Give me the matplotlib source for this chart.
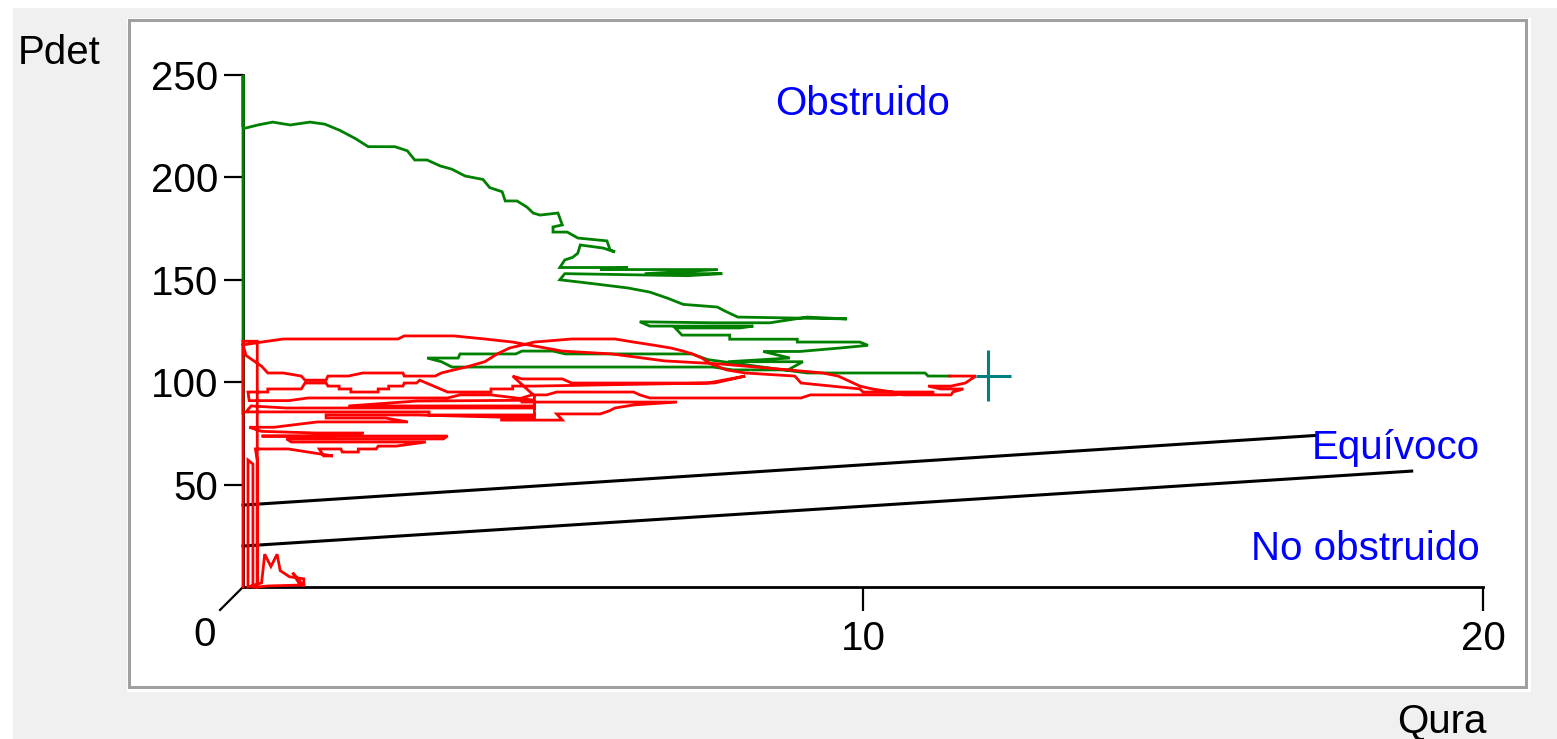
import matplotlib
matplotlib.use("Agg")
import matplotlib.pyplot as plt
from matplotlib.patches import Rectangle

plt.rcParams['font.family'] = ['Liberation Sans', 'DejaVu Sans']

# ---- data ----
# nomogram boundary lines
obst_q = [0.0, 17.3]
obst_p = [40.0, 74.0]
equiv_q = [0.0, 18.85]
equiv_p = [20.0, 56.6]

# voiding trace up to Qmax (green), (Qura, Pdet) pairs
green_trace = [
    (0.0, 85.0), (0.0, 250.0), (0.0, 225.0), (0.03, 224.0), (0.24, 225.6), (0.48, 227.0),
    (0.76, 225.6), (1.08, 227.0), (1.32, 226.0), (1.56, 223.0), (1.81, 219.0), (2.02, 215.0),
    (2.45, 215.0), (2.65, 213.0), (2.77, 208.5), (2.97, 208.5), (3.18, 205.6), (3.37, 204.0),
    (3.58, 200.7), (3.87, 199.0), (3.98, 195.0), (4.18, 193.0), (4.23, 188.5), (4.42, 188.5),
    (4.58, 185.5), (4.68, 182.6), (4.79, 181.6), (5.08, 182.6), (5.15, 176.8), (5.0, 175.8),
    (5.0, 173.3), (5.23, 173.3), (5.4, 170.4), (5.87, 169.0), (5.92, 164.6), (6.0, 163.6),
    (5.81, 165.5), (5.44, 167.0), (5.4, 163.0), (5.32, 161.0), (5.19, 159.7), (5.11, 156.0),
    (6.21, 156.0), (5.76, 155.0), (7.66, 155.0), (6.48, 153.0), (7.73, 153.0), (7.16, 152.0),
    (5.19, 153.0), (5.11, 150.0), (5.4, 149.0), (5.81, 147.5), (6.21, 146.0), (6.56, 144.0),
    (6.85, 141.0), (7.1, 138.0), (7.65, 136.7), (7.77, 134.8), (7.98, 131.8), (9.74, 130.9),
    (9.1, 131.8), (8.5, 129.0), (7.58, 129.0), (6.4, 129.5), (6.56, 127.4), (8.23, 127.4),
    (8.02, 126.5), (6.97, 126.5), (7.08, 123.0), (7.85, 123.0), (7.85, 121.0), (8.94, 121.0),
    (8.94, 119.6), (9.95, 119.6), (10.08, 118.0), (9.63, 116.7), (8.98, 115.0), (8.39, 115.0),
    (8.82, 111.8), (7.82, 110.0), (9.03, 110.0), (8.79, 106.0), (7.9, 106.0), (7.58, 107.4),
    (3.37, 107.4), (3.2, 110.0), (2.97, 111.8), (3.47, 111.8), (3.5, 113.8), (4.4, 113.8),
    (4.5, 115.2), (5.0, 115.2), (5.2, 113.8), (7.24, 113.8), (7.5, 111.0), (8.6, 106.5),
    (9.1, 104.5), (9.34, 104.5), (9.6, 104.5), (11.0, 104.5), (11.05, 103.0), (11.4, 103.0),
]

# voiding trace after Qmax (red), (Qura, Pdet) pairs
red_trace = [
    (11.4, 103.0), (11.82, 103.0), (11.65, 99.6), (11.42, 98.1), (11.05, 98.1), (11.25, 96.7),
    (11.62, 96.7), (11.45, 95.2), (11.42, 93.8), (10.65, 93.8), (10.48, 95.2), (10.15, 96.7),
    (9.95, 98.1), (9.6, 103.0), (9.35, 104.5), (8.8, 106.0), (7.7, 108.9), (6.8, 110.4),
    (5.95, 113.8), (5.15, 115.2), (4.6, 118.2), (4.35, 119.6), (3.9, 121.1), (3.4, 122.6),
    (2.6, 122.6), (2.5, 121.1), (0.65, 121.1), (0.3, 119.6), (0.0, 118.2),
    (0.05, 113.0), (0.3, 107.8), (0.4, 104.5), (0.65, 104.5), (0.94, 103.0), (1.0, 101.0),
    (1.34, 101.0), (1.37, 103.0), (1.7, 103.0), (1.93, 104.5), (2.58, 104.5), (2.6, 103.0),
    (3.1, 103.0), (3.2, 104.5), (3.4, 106.0), (3.6, 107.4), (3.9, 110.0), (4.1, 113.8),
    (4.3, 116.7), (4.7, 119.6), (5.3, 121.1), (6.0, 121.1), (6.3, 119.6), (6.6, 118.2),
    (6.9, 116.7), (7.1, 115.2), (7.25, 113.8), (7.4, 111.8), (7.55, 108.9), (7.8, 106.0),
    (8.1, 104.5), (8.9, 103.0), (9.0, 99.6), (9.5, 98.1), (9.95, 96.7), (10.0, 95.2),
    (11.15, 95.2), (10.5, 93.8), (9.15, 93.8), (9.0, 92.3), (6.56, 92.3), (6.4, 93.8),
    (6.3, 95.2), (5.06, 95.2), (4.9, 93.8), (4.66, 93.8), (4.5, 92.3), (4.5, 90.3),
    (7.0, 90.3), (6.3, 88.9), (6.0, 87.4), (5.9, 85.9), (5.76, 84.5), (5.06, 84.5),
    (5.15, 81.5), (4.15, 81.5), (4.7, 84.0), (4.7, 87.0),
    (4.7, 93.3), (4.35, 103.0), (4.5, 101.6), (5.15, 101.6), (5.3, 99.6), (7.6, 99.6),
    (7.9, 101.6), (8.1, 103.0), (7.5, 99.6), (4.7, 98.1),
    (4.35, 98.1), (4.35, 96.7), (4.0, 96.7), (4.0, 95.2), (3.3, 95.2), (2.85, 101.0),
    (2.8, 99.6), (2.6, 99.6), (2.58, 98.1), (2.35, 98.1), (2.35, 96.7), (2.18, 96.7),
    (2.18, 95.2), (1.74, 95.2), (1.74, 96.7), (1.55, 96.7), (1.55, 98.1), (1.37, 98.1),
    (1.34, 99.6), (1.0, 99.6), (0.94, 96.7), (0.4, 96.7), (0.4, 95.2), (0.08, 95.2),
    (0.1, 91.0), (0.74, 91.0), (1.05, 92.3), (3.3, 92.3), (3.5, 93.8), (4.0, 93.8),
    (4.7, 91.2), (2.8, 90.8), (1.7, 88.4), (4.7, 88.4), (4.7, 87.4), (0.7, 87.4),
    (0.13, 88.4), (0.05, 85.5), (3.0, 85.5), (3.0, 84.0), (4.7, 84.0), (4.7, 82.5),
    (2.8, 84.0), (1.34, 84.0), (1.34, 82.5), (2.3, 82.5), (2.66, 80.6), (1.2, 80.6),
    (0.5, 78.0), (0.1, 78.0), (0.3, 76.0), (1.18, 75.2), (1.95, 75.2), (1.45, 73.7),
    (0.3, 73.7), (3.3, 73.7), (3.23, 72.3), (0.7, 72.3), (0.78, 70.8), (2.95, 70.8),
    (2.47, 68.8), (2.18, 68.8), (2.15, 67.4), (1.86, 67.4), (1.86, 65.9), (1.6, 65.9),
    (1.58, 67.4), (1.23, 67.4), (1.3, 64.0), (1.45, 64.0), (0.73, 67.4), (0.2, 67.4),
    (0.23, 62.0), (0.23, 0.0), (0.16, 0.0), (0.16, 60.0), (0.08, 62.0), (0.08, 0.0),
    (0.3, 2.0), (0.35, 16.0), (0.45, 10.0), (0.55, 16.0), (0.6, 8.0), (0.75, 5.0),
    (0.98, 4.0), (0.98, 0.5), (0.8, 7.0), (0.9, 2.0), (1.0, 1.0), (0.4, 0.5),
    (0.23, 0.0), (0.23, 120.0), (0.0, 120.0), (0.0, 0.0),
]

qmax_q = 12.02
qmax_p = 103.0

y_ticks = [50, 100, 150, 200, 250]
x_ticks = [10, 20]

green_q, green_p = zip(*green_trace)
red_q, red_p = zip(*red_trace)

W, H = 1557, 739
fig = plt.figure(figsize=(W / 100, H / 100), dpi=100)
fig.patch.set_facecolor('#f0f0f0')

# window frame
fig.patches.append(Rectangle((0, 0), 13 / W, 1, transform=fig.transFigure,
                             facecolor='white', edgecolor='none', zorder=-3))
fig.patches.append(Rectangle((0, 1 - 8 / H), 1, 8 / H, transform=fig.transFigure,
                             facecolor='white', edgecolor='none', zorder=-3))
fig.patches.append(Rectangle((127 / W, 1 - 692 / H), (1531 - 127) / W, (692 - 18) / H,
                             transform=fig.transFigure, facecolor='white',
                             edgecolor='none', zorder=-2))
fig.patches.append(Rectangle((128.5 / W, 1 - 686.5 / H), (1525.5 - 128.5) / W,
                             (686.5 - 19.5) / H, transform=fig.transFigure,
                             facecolor='white', edgecolor='#a0a0a0', linewidth=2.2, zorder=-1))

ax = fig.add_axes([243 / W, 1 - 587 / H, 1240 / W, 512 / H])
ax.set_zorder(2)
ax.set_facecolor('none')
ax.set_xlim(0, 20)
ax.set_ylim(0, 250)
for s in ['top', 'right']:
    ax.spines[s].set_visible(False)
ax.spines['left'].set_linewidth(2.0)
ax.spines['bottom'].set_linewidth(2.0)

ax.set_yticks(y_ticks)
ax.set_yticklabels([str(v) for v in y_ticks])
ax.set_xticks(x_ticks)
ax.set_xticklabels([str(v) for v in x_ticks])
ax.tick_params(axis='y', length=13.5, width=1.6, pad=4, labelsize=29)
ax.tick_params(axis='x', length=17, width=1.6, pad=7, labelsize=29)

# slanted tick at the origin and its label
ax.plot([0, -0.37], [0, -11.2], color='black', lw=1.6, clip_on=False)
ax.annotate('0', xy=(0, 0), xytext=(-38, -48), textcoords='offset pixels',
            ha='center', va='center', fontsize=29)

# nomogram lines
ax.plot(obst_q, obst_p, color='black', lw=2.2, clip_on=False, zorder=3)
ax.plot(equiv_q, equiv_p, color='black', lw=2.2, clip_on=False, zorder=3)

# traces
ax.plot(green_q, green_p, color='#008000', lw=2.0, clip_on=False, zorder=4,
        solid_joinstyle='miter')
ax.plot(red_q, red_p, color='#ff0000', lw=2.0, clip_on=False, zorder=5,
        solid_joinstyle='miter')

# Qmax cross
ax.errorbar([qmax_q], [qmax_p], xerr=[[0.2], [0.37]], yerr=[[12.0], [12.5]],
            fmt='none', ecolor='#008080', elinewidth=2.2, capsize=0, zorder=6)

# zone labels
ax.text(10, 230.5, 'Obstruido', color='blue', fontsize=29, ha='center', va='baseline')
ax.text(19.95, 62.5, 'Equívoco', color='blue', fontsize=29, ha='right', va='baseline')
ax.text(19.95, 13.2, 'No obstruido', color='blue', fontsize=29, ha='right', va='baseline')

# axis titles
fig.text(18 / W, 1 - 64 / H, 'Pdet', fontsize=29, ha='left', va='baseline')
fig.text(1397 / W, 1 - 732 / H, 'Qura', fontsize=29, ha='left', va='baseline')

fig.savefig('out.png', dpi=100, facecolor=fig.get_facecolor())
